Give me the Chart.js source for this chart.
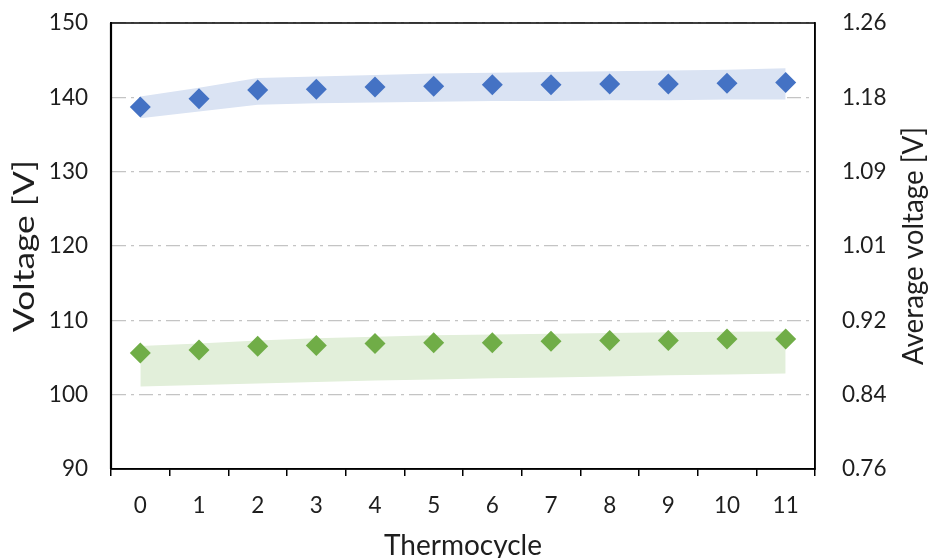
<!DOCTYPE html>
<html><head><meta charset="utf-8">
<script src="https://cdn.jsdelivr.net/npm/chart.js@4.4.1/dist/chart.umd.min.js"></script>
<style>html,body{margin:0;padding:0;background:#fff;}#wrap{width:930px;height:558px;}</style>
</head><body><div id="wrap"><canvas id="c" width="930" height="558"></canvas></div>
<script>
const categories = ['0','1','2','3','4','5','6','7','8','9','10','11'];
const stackVoltage = [138.7, 139.8, 141.0, 141.1, 141.4, 141.5, 141.7, 141.7, 141.8, 141.8, 141.9, 142.0];
const stackBandUpper = [140.1, 141.3, 142.6, 142.8, 143.0, 143.2, 143.3, 143.4, 143.5, 143.6, 143.7, 143.9];
const stackBandLower = [137.2, 138.1, 139.0, 139.2, 139.3, 139.4, 139.5, 139.5, 139.6, 139.6, 139.7, 139.7];
const avgVoltage = [105.6, 106.0, 106.5, 106.6, 106.9, 107.0, 107.0, 107.2, 107.3, 107.3, 107.5, 107.5];
const avgBandUpper = [106.55, 106.9, 107.3, 107.6, 107.8, 108.0, 108.1, 108.2, 108.3, 108.4, 108.45, 108.5];
const avgBandLower = [101.1, 101.3, 101.5, 101.7, 101.9, 102.05, 102.2, 102.3, 102.45, 102.6, 102.7, 102.85];
const leftTicks = [90, 100, 110, 120, 130, 140, 150];
const rightTickLabels = ['0.76', '0.84', '0.92', '1.01', '1.09', '1.18', '1.26'];
const xTitle = 'Thermocycle';
const yTitle = 'Voltage [V]';
const y2Title = 'Average voltage [V]';

const FONT = "Lato, 'Open Sans', sans-serif";
const TEXT = '#1e1e1e';

const frame = {
  id: 'frame',
  afterDraw(chart) {
    const a = chart.chartArea, ctx = chart.ctx;
    ctx.save();
    ctx.strokeStyle = '#000';
    ctx.lineWidth = 1.5;
    ctx.strokeRect(a.left, a.top, a.right - a.left, a.bottom - a.top);
    ctx.lineWidth = 2.2;
    ctx.beginPath(); ctx.moveTo(a.left, a.top); ctx.lineTo(a.left, a.bottom); ctx.stroke();
    ctx.restore();
  }
};

function drawTitle(ctx, text, x, y, rot, len) {
  ctx.save();
  ctx.translate(x, y);
  ctx.rotate(rot);
  const w = ctx.measureText(text).width;
  ctx.scale(len ? len / w : 1, 1);
  ctx.fillText(text, 0, 0);
  ctx.restore();
}

const titles = {
  id: 'titles',
  afterDraw(chart) {
    const a = chart.chartArea, ctx = chart.ctx;
    const midX = (a.left + a.right) / 2, midY = (a.top + a.bottom) / 2;
    ctx.save();
    ctx.fillStyle = TEXT;
    ctx.font = '28px ' + FONT;
    ctx.textAlign = 'center';
    ctx.textBaseline = 'alphabetic';
    drawTitle(ctx, xTitle, midX, 555, 0, 0);
    ctx.textBaseline = 'middle';
    drawTitle(ctx, yTitle, 25, midY, -Math.PI / 2, 172);
    drawTitle(ctx, y2Title, 914, midY, -Math.PI / 2, 238);
    ctx.restore();
  }
};

function noPad(s) { s.paddingTop = 0; s.paddingBottom = 0; s.paddingLeft = 0; s.paddingRight = 0; }

new Chart(document.getElementById('c'), {
  type: 'line',
  data: {
    labels: categories,
    datasets: [
      { data: stackBandUpper, fill: '+1', backgroundColor: '#dae3f3', borderWidth: 0, pointRadius: 0, tension: 0, order: 5 },
      { data: stackBandLower, fill: false, borderWidth: 0, pointRadius: 0, tension: 0, order: 5 },
      { data: avgBandUpper, fill: '+1', backgroundColor: '#e2efda', borderWidth: 0, pointRadius: 0, tension: 0, order: 5 },
      { data: avgBandLower, fill: false, borderWidth: 0, pointRadius: 0, tension: 0, order: 5 },
      { data: stackVoltage, showLine: false, pointStyle: 'rectRot', pointRadius: 10.5, pointBackgroundColor: '#4472c4', pointBorderColor: '#4472c4', pointBorderWidth: 0, order: 1 },
      { data: avgVoltage, showLine: false, pointStyle: 'rectRot', pointRadius: 10.5, pointBackgroundColor: '#70ad47', pointBorderColor: '#70ad47', pointBorderWidth: 0, order: 1 }
    ]
  },
  options: {
    responsive: false,
    animation: false,
    layout: { autoPadding: false, padding: { left: 0, right: 0, top: 23, bottom: 0 } },
    plugins: { legend: { display: false }, tooltip: { enabled: false } },
    scales: {
      x: {
        type: 'category',
        offset: true,
        afterFit(s) { s.height = 89; noPad(s); },
        grid: { offset: true, drawOnChartArea: false, drawTicks: true, tickLength: 7, color: '#000', lineWidth: 1.5 },
        border: { display: true, color: '#000', width: 1.5 },
        ticks: { font: { family: FONT, size: 22.5 }, color: TEXT, padding: 16 },
        title: { display: false }
      },
      y: {
        position: 'left',
        min: 90, max: 150,
        afterFit(s) { s.width = 111; noPad(s); },
        afterBuildTicks(s) { s.ticks = leftTicks.map(v => ({ value: v })); },
        grid: { drawTicks: false, color: '#c4c4c4', lineWidth: 1.3 },
        border: { display: true, color: '#000', width: 2, dash: [14, 5, 3, 5] },
        ticks: { font: { family: FONT, size: 22.5 }, color: TEXT, padding: 23 },
        title: { display: false }
      },
      y2: {
        position: 'right',
        min: 90, max: 150,
        afterFit(s) { s.width = 115; noPad(s); },
        afterBuildTicks(s) { s.ticks = leftTicks.map(v => ({ value: v })); },
        grid: { drawOnChartArea: false, drawTicks: false },
        border: { display: true, color: '#000', width: 1.5 },
        ticks: { font: { family: FONT, size: 22.5 }, color: TEXT, padding: 27, callback: (v, i) => rightTickLabels[i] },
        title: { display: false }
      }
    }
  },
  plugins: [frame, titles]
});
</script></body></html>
